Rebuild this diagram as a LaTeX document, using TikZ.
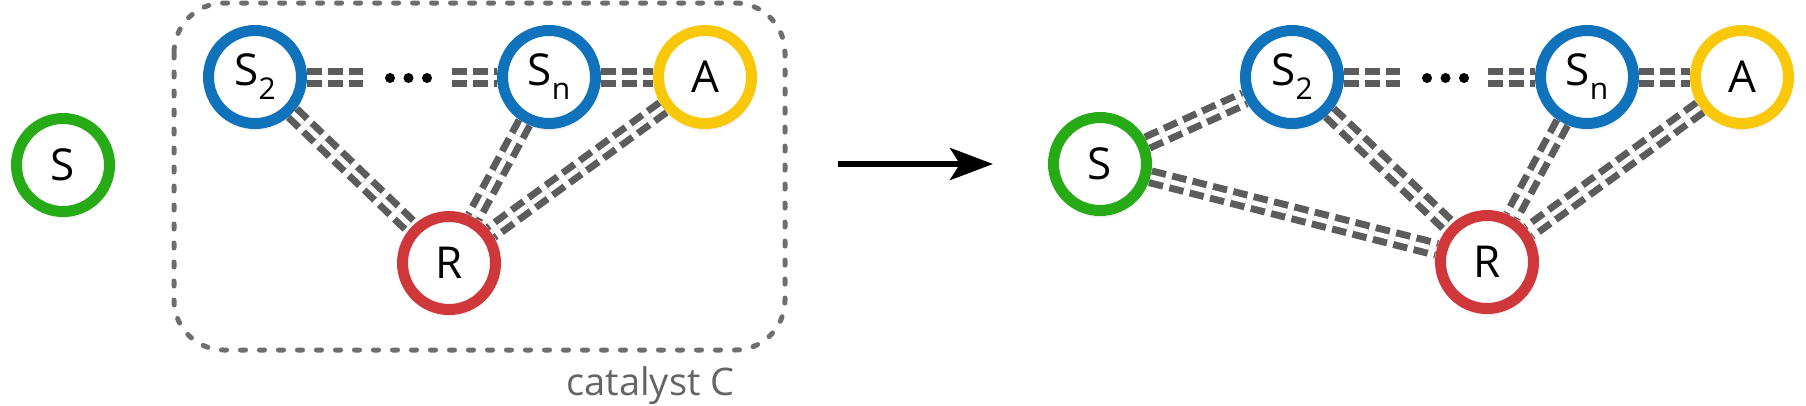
\documentclass[tikz,border=0pt]{standalone}
\usepackage{fontspec}
\setmainfont{Open Sans}
\usetikzlibrary{arrows.meta,shadows.blur}
\definecolor{cgreen}{RGB}{38,170,22}
\definecolor{cblue}{RGB}{16,114,186}
\definecolor{cyellow}{RGB}{250,200,10}
\definecolor{cred}{RGB}{208,55,58}
\definecolor{cgray}{RGB}{92,92,92}
\definecolor{ctext}{RGB}{100,100,100}
\definecolor{cbox}{RGB}{110,110,110}
\newcommand\mysubs[1]{\raisebox{-14pt}{\fontsize{30}{30}\selectfont #1}}
\begin{document}
\begin{tikzpicture}[x=1pt,y=-1pt,
  atom/.style={circle, draw=#1, line width=11pt, fill=white, minimum size=93pt,
    inner sep=0pt, font=\fontsize{44}{44}\selectfont,
    blur shadow={shadow xshift=1pt, shadow yshift=-3pt, shadow blur radius=5pt, shadow opacity=40}},
  bond/.style={draw=cgray, line width=7pt, double=white, double distance=5pt,
    dash pattern=on 14.5pt off 6.5pt},
  dotmark/.style={circle, fill=black, inner sep=0pt, minimum size=10pt},
  catbox/.style={draw=cbox, line width=5pt, line cap=round, dash pattern=on 5pt off 14pt, rounded corners=50pt},
  bigarrow/.style={draw=black, line width=6pt, -{Stealth[length=43pt,width=32pt,inset=10pt]}}
]
\useasboundingbox (0,0) rectangle (1806,405);

% catalyst box
\draw[catbox] (174,3) rectangle (785,350);
\node[anchor=base east, text=ctext, font=\fontsize{38}{38}\selectfont] (catlabel) at (738,395) {catalyst C};

% left side
\node[atom=cgreen] (Sa) at (63,165) {S};
\node[atom=cblue] (S2a) at (255,77) {S\mysubs{2}};
\node[atom=cblue] (Sna) at (549,77) {S\mysubs{n}};
\node[atom=cyellow] (Aa) at (705,77) {A};
\node[atom=cred] (Ra) at (449,263) {R};
\coordinate (da1) at (363,77);
\coordinate (da2) at (452,77);
\node[dotmark] (pa1) at (390,78) {};
\node[dotmark] (pa2) at (408.5,78) {};
\node[dotmark] (pa3) at (427,78) {};
\draw[bond] (S2a) -- (da1);
\draw[bond] (da2) -- (Sna);
\draw[bond] (Sna) -- (Aa);
\draw[bond] (S2a) -- (Ra);
\draw[bond] (Sna) -- (Ra);
\draw[bond] (Aa) -- (Ra);

% arrow
\coordinate (ar1) at (838,164);
\coordinate (ar2) at (993,164);
\draw[bigarrow] (ar1) -- (ar2);

% right side
\node[atom=cgreen] (Sb) at (1100,164) {S};
\node[atom=cblue] (S2b) at (1292,77) {S\mysubs{2}};
\node[atom=cblue] (Snb) at (1587,77) {S\mysubs{n}};
\node[atom=cyellow] (Ab) at (1742,77) {A};
\node[atom=cred] (Rb) at (1487,262) {R};
\coordinate (db1) at (1400,77);
\coordinate (db2) at (1488,77);
\node[dotmark] (pb1) at (1427,78) {};
\node[dotmark] (pb2) at (1445.5,78) {};
\node[dotmark] (pb3) at (1464,78) {};
\draw[bond] (S2b) -- (db1);
\draw[bond] (db2) -- (Snb);
\draw[bond] (Snb) -- (Ab);
\draw[bond] (S2b) -- (Rb);
\draw[bond] (Snb) -- (Rb);
\draw[bond] (Ab) -- (Rb);
\draw[bond] (Sb) -- (S2b);
\draw[bond] (Sb) -- (Rb);
\end{tikzpicture}
\end{document}
